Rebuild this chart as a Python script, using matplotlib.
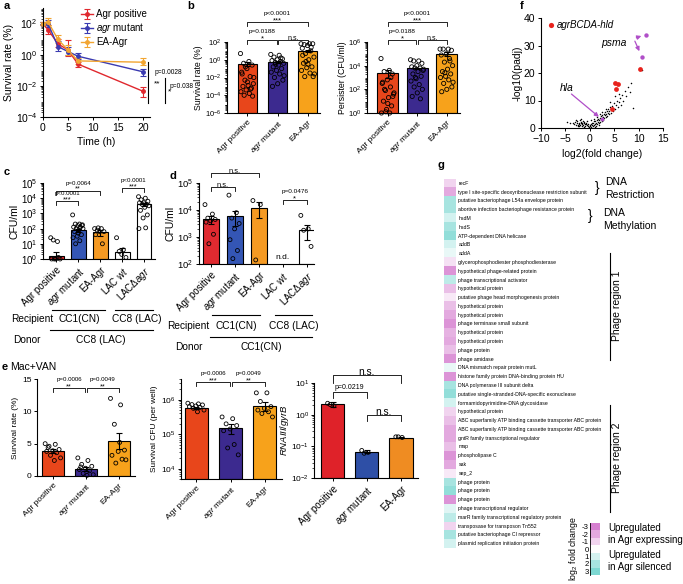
import numpy as np
import matplotlib
matplotlib.use("Agg")
import matplotlib.pyplot as plt
from matplotlib.colors import LinearSegmentedColormap
from matplotlib.lines import Line2D
from matplotlib.ticker import LogLocator, NullFormatter, LogFormatterSciNotation
from matplotlib.transforms import blended_transform_factory

plt.rcParams['font.family'] = ['Liberation Sans', 'DejaVu Sans']
plt.rcParams['mathtext.fontset'] = 'custom'
plt.rcParams['mathtext.rm'] = 'Liberation Sans'
plt.rcParams['mathtext.it'] = 'Liberation Sans:italic'
plt.rcParams['mathtext.bf'] = 'Liberation Sans:bold'
plt.rcParams['axes.linewidth'] = 0.8

# ---------------- data ----------------
grp3 = ['Agr positive', r'$\it{agr}$ mutant', 'EA-Agr']
grp5 = ['Agr positive', r'$\it{agr}$ mutant', 'EA-Agr', r'LAC $\it{wt}$', r'LACΔ$\it{agr}$']

# a: time course
a_time = [0, 1, 3, 5, 7, 20]
a_pos = [100, 40, 5, 2, 0.25, 0.0045]
a_pos_lo = [15, 20, 2, 1.2, 0.08, 0.0025]
a_pos_hi = [20, 40, 5, 7, 0.1, 0.004]
a_mut = [100, 100, 3.3, 1.6, 0.8, 0.08]
a_mut_lo = [15, 40, 1.5, 0.7, 0.3, 0.04]
a_mut_hi = [20, 80, 4, 1.5, 0.4, 0.05]
a_ea = [100, 130, 9.5, 2, 0.4, 0.33]
a_ea_lo = [15, 50, 4, 1, 0.15, 0.12]
a_ea_hi = [30, 100, 8, 2, 0.2, 0.25]

# b: survival rate (%) and persisters (log10 values of single points)
b_surv = [0.35, 0.6, 10]
b_surv_err = [0.15, 0.2, 3]
b_surv_pts = [
    [0.7, -0.2, -0.4, -0.6, -1.0, -1.4, -1.9, -2.3, -2.7, -2.9, -3.0, -3.2, -3.4, -3.6, -3.8, -4.0, -4.1, -2.5, -1.6, -3.3, -0.8, -2.0],
    [0.6, 0.5, 0.3, 0.1, 0.0, -0.1, -0.2, -0.3, -0.4, -0.6, -0.8, -1.0, -1.2, -1.4, -1.6, -2.0, -2.3, -2.7, -3.0, 0.2, -0.5, -1.8],
    [1.8, 1.8, 1.7, 1.8, 1.6, 1.3, 1.0, 0.7, 0.3, 0.0, -0.4, -0.8, -0.9, -1.2, -1.5, -1.9, -1.9, -0.5, 0.5, 1.4, -0.2, -1.6],
]
b_pers = [2500, 6000, 1e5]
b_pers_err = [1500, 800, 30000]
b_pers_pts = [
    [4.6, 3.6, 3.5, 3.3, 2.8, 2.5, 2.2, 1.9, 1.6, 1.3, 1.0, 0.6, 0.3, 0.0, 0.0, 2.0, 1.4, 0.8, 2.6, 3.0, 0.1, 1.7],
    [4.5, 4.4, 4.4, 4.2, 4.0, 3.9, 3.8, 3.8, 3.6, 3.5, 3.3, 3.1, 2.9, 2.7, 2.4, 2.2, 2.0, 1.7, 1.4, 1.2, 3.0, 3.7],
    [5.4, 5.4, 5.4, 5.3, 5.0, 4.9, 4.6, 4.3, 4.0, 3.7, 3.5, 3.3, 3.1, 3.0, 2.8, 2.5, 2.2, 2.0, 1.8, 4.4, 3.4, 2.6],
]

# c: transfer, donor CC8 (LAC)
c_vals = [1.5, 80, 60, 3, 4000]
c_err = [1.3, 20, 25, 2, 800]
c_pts = [
    [1.4, 1.15, 1.25, 0.0, 0.0, 0.0, 0.1, 0.0],
    [2.9, 2.3, 2.3, 2.2, 2.2, 2.1, 2.1, 2.0, 2.0, 1.9, 1.8, 1.6, 1.5, 1.4, 1.2, 1.0, 2.25, 1.7],
    [2.0, 2.0, 1.9, 1.8, 1.8, 1.6, 1.0, 2.05],
    [1.4, 0.6, 0.5, 0.1, 0.3],
    [4.1, 4.0, 3.9, 3.8, 3.7, 3.7, 3.6, 3.6, 3.5, 3.4, 3.2, 2.9, 2.7, 2.0, 2.05],
]
# d: transfer, donor CC1 (CN); LAC wt not detected
d_vals = [4500, 6000, 12000, None, 1800]
d_err = [1500, 3500, 7000, None, 1000]
d_pts = [
    [4.2, 3.85, 3.7, 3.65, 3.6, 3.55, 3.1, 2.75],
    [4.55, 3.9, 3.7, 3.5, 3.3, 2.9, 2.5, 2.2],
    [4.35, 4.2, 2.15],
    [],
    [3.8, 3.3, 3.25, 2.65],
]

# e: macrophage + vancomycin
e_rate = [3.8, 1.1, 5.4]
e_rate_err = [0.3, 0.25, 1.3]
e_rate_pts = [
    [5.0, 4.9, 4.6, 4.1, 3.9, 3.8, 3.6, 3.2, 2.8, 2.4, 4.4],
    [2.8, 2.4, 1.8, 1.5, 1.2, 1.0, 0.8, 0.4, 0.2, 0.1, 1.4],
    [12.0, 11.0, 8.0, 4.0, 3.8, 3.2, 2.6, 2.0, 2.5, 5.2],
]
e_cfu = [5.8e5, 1.5e5, 6.7e5]
e_cfu_err = [5e4, 5e4, 2e5]
e_cfu_pts = [
    [5.9, 5.88, 5.86, 5.85, 5.82, 5.8, 5.78, 5.75, 5.7, 5.65],
    [5.5, 5.45, 5.3, 5.25, 5.15, 5.1, 4.7, 4.6, 4.4],
    [6.2, 6.2, 5.95, 5.8, 5.75, 5.7, 5.65, 5.6, 5.5],
]
e_rna = [2.2, 0.068, 0.19]
e_rna_err = [0.4, 0.008, 0.01]
e_rna_pts = [[0.36, 0.28, 0.32], [-1.13, -1.19, -1.22], [-0.70, -0.72, -0.70]]

# f: volcano
f_x = [-3.2, -3.0, -2.9, -2.7, -2.6, -2.5, -2.4, -2.3, -2.2, -2.1, -2.0, -1.9, -1.8, -1.7, -1.6, -1.5, -1.4, -1.3,
       -1.2, -1.1, -1.0, -0.9, -0.8, -0.7, -0.6, -0.5, -0.4, -0.3, -3.5, -4.0, -4.6, -2.8, -1.8, -2.2, -1.1,
       0.1, 0.2, 0.3, 0.4, 0.5, 0.6, 0.7, 0.8, 0.9, 1.0, 1.1, 1.2, 1.3, 1.4, 1.5, 1.6, 1.7, 1.8, 1.9, 2.0,
       2.1, 2.2, 2.3, 2.4, 2.5, 2.6, 2.7, 2.8, 2.9, 3.0, 3.1, 3.2, 3.3, 3.4, 3.5, 3.6, 3.7, 3.8, 3.9, 4.0,
       4.2, 4.3, 4.4, 4.6, 4.7, 4.8, 5.0, 5.1, 5.3, 5.5, 5.7, 5.9, 6.1, 6.3, 6.6, 6.9, 7.2, 7.5, 7.8, 8.2,
       8.5, 8.9, 10.6, 0.3, 0.9, 1.5, 2.0, 2.6, 3.3, 4.1, 5.2, 6.0, -0.2, 0.0, 1.0, 1.8]
f_y = [1.5, 2.2, 1.0, 1.8, 2.6, 1.2, 0.8, 2.0, 1.6, 2.8, 1.1, 2.3, 1.7, 0.9, 2.0, 1.4, 2.5, 1.0,
       1.8, 2.2, 1.3, 0.7, 1.9, 1.5, 2.4, 1.1, 0.6, 1.6, 2.0, 1.8, 2.2, 3.0, 3.2, 0.6, 0.5,
       0.8, 1.5, 0.5, 2.0, 1.2, 0.7, 1.8, 2.4, 1.0, 1.6, 2.6, 0.9, 2.0, 3.0, 1.4, 2.3, 3.4, 1.9, 2.8, 3.8,
       2.2, 3.2, 4.2, 2.6, 3.6, 4.8, 3.0, 4.1, 5.2, 3.5, 4.6, 5.8, 4.0, 5.0, 6.3, 4.5, 5.5, 7.0, 5.0, 6.2,
       7.5, 5.6, 6.8, 8.0, 6.2, 7.4, 9.0, 6.8, 8.2, 10.0, 7.5, 9.5, 11.0, 8.5, 12.0, 10.0, 13.5, 11.5, 15.0, 13.0,
       16.5, 7.2, 21.0, 3.0, 3.3, 4.0, 5.0, 6.0, 7.0, 9.5, 11.5, 12.5, 0.4, 1.2, 0.4, 1.0]
f_red_x = [4.5, 5.2, 5.7, 5.3, 10.2]
f_red_y = [7.0, 16.5, 16.0, 14.2, 21.5]
f_psma_x = [11.5, 10.6]
f_psma_y = [34.0, 26.0]
f_hla = (2.4, 3.2)

# g: heatmap of log2 fold change
g_labels = [
    'recF', 'type I site-specific deoxyribonuclease restriction subunit', 'putative bacteriophage L54a envelope protein',
    'abortive infection bacteriophage resistance protein', 'hsdM', 'hsdS', 'ATP-dependent DNA helicase', 'addB', 'addA',
    'glycerophosphodiester phosphodiesterase', 'hypothetical phage-related protein', 'phage transcriptional activator',
    'hypothetical protein', 'putative phage head morphogenesis protein', 'hypothetical protein', 'hypothetical protein',
    'phage terminase small subunit', 'hypothetical protein', 'hypothetical protein', 'phage protein', 'phage amidase',
    'DNA mismatch repair protein mutL', 'histone family protein DNA-binding protein HU', 'DNA polymerase III subunit delta',
    'putative single-stranded-DNA-specific exonuclease', 'formamidopyrimidine-DNA glycosidase', 'hypothetical protein',
    'ABC superfamily ATP binding cassette transporter ABC protein', 'ABC superfamily ATP binding cassette transporter ABC protein',
    'gntR family transcriptional regulator', 'map', 'phospholipase C', 'sak', 'sep_2', 'phage protein', 'phage protein',
    'phage protein', 'phage transcriptional regulator', 'marR family transcriptional regulatory protein',
    'transposase for transposon Tn552', 'putative bacteriophage CI repressor', 'plasmid replication initiation protein',
]
g_vals = [-1, -2, 2, 2, 1, 2, 2.5, 1, 0.5, -0.7, -2.5, 1.5, -1.5, -0.5, -1.5, -2, -2.5, -1.8, -2, -1.5, -2.5,
          0.5, -2.5, 2, 2.5, 1, -1, -1.5, -2, -2, -1.5, -2.5, -2, -0.5, 2, 2.5, -2.5, 0.7, 1.5, -1, 2, 1]
g_scale = [-3, -2, -1, 0, 1, 2, 3]

# ---------------- helpers ----------------
W, H = 683, 584
fig = plt.figure(figsize=(W / 100, H / 100), dpi=100)


def box(x0, y0, x1, y1):
    ax = fig.add_axes([x0 / W, 1 - y1 / H, (x1 - x0) / W, (y1 - y0) / H])
    ax.spines['top'].set_visible(False)
    ax.spines['right'].set_visible(False)
    ax.tick_params(direction='out', length=2.5, width=0.7, pad=1.5)
    return ax


def ftext(x, y, s, **kw):
    fig.text(x / W, 1 - y / H, s, **kw)


def fline(xs, ys, lw=0.8):
    fig.add_artist(Line2D([x / W for x in xs], [1 - y / H for y in ys], transform=fig.transFigure, color='k', lw=lw))


def logaxis(ax, lo, hi, ticks, fs):
    ax.set_yscale('log')
    ax.set_ylim(lo, hi)
    ax.set_yticks(ticks)
    ax.yaxis.set_major_formatter(LogFormatterSciNotation())
    ax.yaxis.set_minor_locator(LogLocator(base=10, subs=np.arange(2, 10), numticks=200))
    ax.yaxis.set_minor_formatter(NullFormatter())
    ax.tick_params(axis='y', which='minor', length=1.5, width=0.5)
    ax.tick_params(axis='y', labelsize=fs)


def spread(n, w):
    return w * (((np.arange(n) * 0.618) % 1.0) - 0.5)


def bars(ax, vals, errs, pts, colors, base, logpts=True, width=0.65, ms=9, jit=0.45):
    for i, (v, e, p, c) in enumerate(zip(vals, errs, pts, colors)):
        if v is not None:
            ax.bar(i, v - base, bottom=base, width=width, color=c, edgecolor='k', lw=0.8, zorder=2)
            ax.errorbar(i, v, yerr=[[min(e, v - base * 1.01)], [e]], fmt='none', ecolor='k',
                        elinewidth=0.8, capsize=2.5, capthick=0.8, zorder=4)
        if len(p):
            yy = 10 ** np.array(p) if logpts else np.array(p)
            ax.scatter(i + spread(len(p), jit), yy, s=ms, facecolors='none', edgecolors='k',
                       linewidths=0.6, zorder=3, clip_on=False)
    ax.set_xlim(-0.6, len(vals) - 0.4)


def xlabels(ax, labels, fs):
    ax.set_xticks(range(len(labels)))
    ax.set_xticklabels(labels, rotation=45, ha='right', rotation_mode='anchor', fontsize=fs)


def bracket(ax, x1, x2, py, ptxt, star, fs=4.6, drop=4, poff=6.5):
    tr = blended_transform_factory(ax.transData, fig.transFigure)
    y = 1 - py / H
    d = drop / H
    ax.plot([x1, x1, x2, x2], [y - d, y, y, y - d], transform=tr, color='k', lw=0.6, clip_on=False)
    xm = (x1 + x2) / 2
    if ptxt:
        ax.text(xm, y + poff / H, ptxt, transform=tr, ha='center', va='bottom', fontsize=fs)
    if star:
        ax.text(xm, y - 2.0 / H, star, transform=tr, ha='center', va='bottom', fontsize=fs + 0.8)


col_b = ['#e8461b', '#3c2a8f', '#f7a21b']
col_c = ['#e02a30', '#3456b5', '#f59a23', 'white', 'white']
col_r = ['#df2229', '#2e4fa6', '#ef8c22']

# ---------------- a ----------------
ax = box(43, 8, 150, 117)
for v, lo, hi, c, lab in [(a_pos, a_pos_lo, a_pos_hi, '#e0282e', 'Agr positive'),
                          (a_mut, a_mut_lo, a_mut_hi, '#3a3ab0', r'$\it{agr}$ mutant'),
                          (a_ea, a_ea_lo, a_ea_hi, '#f2a531', 'EA-Agr')]:
    ax.errorbar(a_time, v, yerr=[lo, hi], color=c, lw=1.0, marker='o', ms=2.5, capsize=2,
                elinewidth=0.8, capthick=0.8, label=lab, clip_on=False)
logaxis(ax, 1e-4, 1e3, [1e-4, 1e-2, 1e0, 1e2], 7.5)
ax.set_xlim(0, 21.4)
ax.set_xticks([0, 5, 10, 15, 20])
ax.tick_params(axis='x', labelsize=7.5)
ax.set_xlabel('Time (h)', fontsize=7.5, labelpad=3)
ax.set_ylabel('Survival rate (%)', fontsize=7.5, labelpad=1)
ax.legend(loc='upper left', bbox_to_anchor=(0.3, 1.04), frameon=False, fontsize=7, handlelength=1.2,
          handletextpad=0.4, labelspacing=0.2, borderpad=0.1)
fline([148, 148], [62, 103])
fline([165, 165], [78, 103])
ftext(155, 72, 'p=0.0028', fontsize=4.8, va='center')
ftext(154, 84, '**', fontsize=6, va='center')
ftext(170, 86, 'p=0.038', fontsize=4.8, va='center')
ftext(168, 92, '*', fontsize=6, va='center')

# ---------------- b ----------------
ax = box(227, 42, 320, 113)
bars(ax, b_surv, b_surv_err, b_surv_pts, col_b, 1e-6, width=0.62)
logaxis(ax, 1e-6, 1e2, [1e-6, 1e-4, 1e-2, 1e0, 1e2], 5.5)
ax.set_xlim(-0.67, 2.4)
xlabels(ax, grp3, 6)
ax.set_ylabel('Survival rate (%)', fontsize=6.3, labelpad=1)
bracket(ax, 0, 2, 22, 'p<0.0001', '***')
bracket(ax, 0, 0.97, 40, 'p=0.0188', '*')
bracket(ax, 1.03, 2, 40, '', 'n.s.', fs=4.2)

ax = box(367, 42, 460, 113)
bars(ax, b_pers, b_pers_err, b_pers_pts, col_b, 1.0, width=0.72)
logaxis(ax, 1.0, 1e6, [1e0, 1e2, 1e4, 1e6], 5.5)
ax.set_xlim(-0.7, 2.45)
xlabels(ax, grp3, 6)
ax.set_ylabel('Persister (CFU/ml)', fontsize=6.3, labelpad=1)
bracket(ax, 0, 2, 22, 'p<0.0001', '***')
bracket(ax, 0, 0.97, 40, 'p=0.0188', '*')
bracket(ax, 1.03, 2, 40, '', 'n.s.', fs=4.2)

# ---------------- c ----------------
ax = box(43, 183, 155, 259)
bars(ax, c_vals, c_err, c_pts, col_c, 1.0, width=0.68, ms=8, jit=0.5)
logaxis(ax, 1.0, 1e5, [1e0, 1e1, 1e2, 1e3, 1e4, 1e5], 7)
ax.set_xlim(-0.6, 4.5)
xlabels(ax, grp5, 7)
ax.set_ylabel('CFU/ml', fontsize=7.5, labelpad=1)
bracket(ax, 0, 1, 201, 'p<0.0001', '***', fs=4.4, poff=5)
bracket(ax, 0, 2, 190.5, 'p=0.0064', '**', fs=4.4, poff=5)
bracket(ax, 3, 4, 188, 'p<0.0001', '***', fs=4.4, poff=5)
fline([52, 105], [310, 310])
fline([115, 153], [310, 310])
fline([50, 153], [330, 330])
ftext(11, 319, 'Recipient', fontsize=7.3, va='center')
ftext(79, 319, 'CC1(CN)', fontsize=7.3, va='center', ha='center')
ftext(137, 319, 'CC8 (LAC)', fontsize=7.3, va='center', ha='center')
ftext(13, 340, 'Donor', fontsize=7.3, va='center')
ftext(101, 340, 'CC8 (LAC)', fontsize=7.3, va='center', ha='center')

# ---------------- d ----------------
ax = box(199, 183, 314, 264)
bars(ax, d_vals, d_err, d_pts, col_c, 100.0, width=0.68, ms=8, jit=0.5)
logaxis(ax, 100.0, 1e5, [1e2, 1e3, 1e4, 1e5], 6.8)
ax.set_xlim(-0.5, 4.3)
xlabels(ax, grp5, 7)
ax.text(3, 130, 'n.d.', ha='center', va='bottom', fontsize=6)
ax.set_ylabel('CFU/ml', fontsize=7.5, labelpad=1)
bracket(ax, 0, 1, 187, '', 'n.s.', fs=4.6)
bracket(ax, 0, 2, 173, '', 'n.s.', fs=4.6)
bracket(ax, 3, 4, 200, 'p=0.0476', '*', fs=4.6)
fline([212, 260], [315, 315])
fline([275, 312], [315, 315])
fline([210, 312], [337, 337])
ftext(167, 326, 'Recipient', fontsize=7.3, va='center')
ftext(236, 326, 'CC1(CN)', fontsize=7.3, va='center', ha='center')
ftext(294, 326, 'CC8 (LAC)', fontsize=7.3, va='center', ha='center')
ftext(175, 347, 'Donor', fontsize=7.3, va='center')
ftext(261, 347, 'CC1(CN)', fontsize=7.3, va='center', ha='center')

# ---------------- e ----------------
ax = box(37, 379, 135, 476)
bars(ax, e_rate, e_rate_err, e_rate_pts, col_b, 0.0, logpts=False, width=0.68, ms=8, jit=0.5)
ax.set_ylim(0, 15)
ax.set_yticks([0, 5, 10, 15])
ax.tick_params(labelsize=6)
ax.set_xlim(-0.5, 2.5)
xlabels(ax, grp3, 6)
ax.set_ylabel('Survival rate (%)', fontsize=6, labelpad=2)
bracket(ax, 0, 0.97, 388, 'p=0.0006', '**', fs=4.4)
bracket(ax, 1.03, 2, 388, 'p=0.0049', '**', fs=4.4)
ftext(10, 367, 'Mac+VAN', fontsize=7.5, va='center')

ax = box(181, 379, 282, 479)
bars(ax, e_cfu, e_cfu_err, e_cfu_pts, col_b, 5e3, width=0.67, ms=8, jit=0.5)
logaxis(ax, 5e3, 4e6, [1e4, 1e5, 1e6], 6)
ax.set_xlim(-0.45, 2.5)
xlabels(ax, grp3, 6)
ax.set_ylabel('Survival CFU (per well)', fontsize=6, labelpad=2)
bracket(ax, 0, 0.97, 382, 'p=0.0006', '***', fs=4.4)
bracket(ax, 1.03, 2, 382, 'p=0.0049', '**', fs=4.4)

ax = box(314, 383, 418, 478)
bars(ax, e_rna, e_rna_err, e_rna_pts, col_r, 1e-2, width=0.68, ms=8, jit=0.3)
logaxis(ax, 1e-2, 1e1, [1e-2, 1e-1, 1e0, 1e1], 6)
ax.tick_params(axis='y', pad=1)
ax.set_xlim(-0.55, 2.5)
xlabels(ax, grp3, 7)
ax.set_ylabel(r'$\it{RNAIII/gyrB}$', fontsize=6.8, labelpad=0)
bracket(ax, 0, 2, 375, '', 'n.s.', fs=6.5, drop=8)
bracket(ax, 0, 1, 392, 'p=0.0219', '', fs=5, drop=6, poff=1)
bracket(ax, 1, 2, 415, '', 'n.s.', fs=6.5, drop=6)

# ---------------- f ----------------
ax = box(541, 18, 663, 128)
ax.scatter(f_x, f_y, s=1.2, color='k', lw=0, zorder=2)
ax.scatter(f_red_x, f_red_y, s=12, color='#e8221c', lw=0, zorder=3)
ax.scatter(f_psma_x, f_psma_y, s=10, color='#b04fc8', lw=0, zorder=3)
ax.scatter([f_hla[0]], [f_hla[1]], s=8, color='#b04fc8', lw=0, zorder=3)
ax.set_xlim(-10, 15)
ax.set_ylim(0, 40)
ax.set_xticks([-10, -5, 0, 5, 10, 15])
ax.set_yticks([0, 10, 20, 30, 40])
ax.tick_params(labelsize=7.5)
ax.set_xlabel('log2(fold change)', fontsize=7.5, labelpad=4)
ax.set_ylabel('-log10(padj)', fontsize=7.5, labelpad=1)
ax.scatter([-7.9], [37.5], s=14, color='#e8221c', lw=0, clip_on=False)
ax.text(-6.7, 37.5, 'agrBCDA-hld', fontsize=7, style='italic', va='center')
ax.text(2.4, 31, 'psma', fontsize=7.5, style='italic', va='center')
ax.text(-6.2, 14.5, 'hla', fontsize=7.5, style='italic', va='center')
ap = dict(arrowstyle='-|>', color='#b04fc8', lw=0.9, mutation_scale=6)
ax.annotate('', xy=(11.1, 33.8), xytext=(9.0, 32.5), arrowprops=ap)
ax.annotate('', xy=(10.4, 27.0), xytext=(9.0, 32.5), arrowprops=ap)
ax.annotate('', xy=(2.3, 3.4), xytext=(-4.2, 13.0), arrowprops=ap)

# ---------------- g ----------------
cmap = LinearSegmentedColormap.from_list('pc', ['#d67fd0', '#ffffff', '#7dd8d2'])
ax = fig.add_axes([444 / W, 1 - 548 / H, 12 / W, 369 / H])
ax.imshow(np.array(g_vals).reshape(-1, 1), cmap=cmap, vmin=-3, vmax=3, aspect='auto', interpolation='nearest')
ax.axis('off')
trg = blended_transform_factory(ax.transAxes, ax.transData)
for i, lab in enumerate(g_labels):
    ax.text(1.2, i, lab, transform=trg, fontsize=3.7, va='center', ha='left')

ftext(597, 188, '}', fontsize=10, va='center', ha='center')
ftext(605, 182, 'DNA', fontsize=7.5, va='center')
ftext(605, 195, 'Restriction', fontsize=7.5, va='center')
ftext(590, 216, '}', fontsize=10, va='center', ha='center')
ftext(603, 213, 'DNA', fontsize=7.5, va='center')
ftext(603, 226, 'Methylation', fontsize=7.5, va='center')
fline([610, 610], [253, 360])
ftext(617, 306, 'Phage region 1', fontsize=7.5, rotation=90, va='center', ha='center')
fline([610, 610], [405, 512])
ftext(617, 458, 'Phage region 2', fontsize=7.5, rotation=90, va='center', ha='center')

ax = fig.add_axes([590 / W, 1 - 575 / H, 10 / W, 52 / H])
ax.imshow(np.array(g_scale).reshape(-1, 1), cmap=cmap, vmin=-3, vmax=3, aspect='auto', interpolation='nearest')
ax.set_xticks([])
ax.set_yticks(range(len(g_scale)))
ax.set_yticklabels([str(v) for v in g_scale], fontsize=5.6)
ax.tick_params(axis='y', length=0, pad=1)
for s in ['top', 'right', 'bottom']:
    ax.spines[s].set_visible(False)
ax.spines['left'].set_linewidth(0.6)
ax.set_ylabel(r'log$_2$ fold change', fontsize=6.3, labelpad=1)
ftext(608, 528, 'Upregulated', fontsize=7, va='center')
ftext(608, 540, 'in Agr expressing', fontsize=7, va='center')
ftext(608, 555, 'Upregulated', fontsize=7, va='center')
ftext(608, 567, 'in Agr silenced', fontsize=7, va='center')

# ---------------- panel letters ----------------
for lt, x, y in [('a', 4, 6), ('b', 187, 6), ('c', 4, 172), ('d', 170, 176), ('e', 2, 367), ('f', 520, 6), ('g', 437, 165)]:
    ftext(x, y, lt, fontsize=8, fontweight='bold', va='center')

fig.savefig('out.png', dpi=100)
